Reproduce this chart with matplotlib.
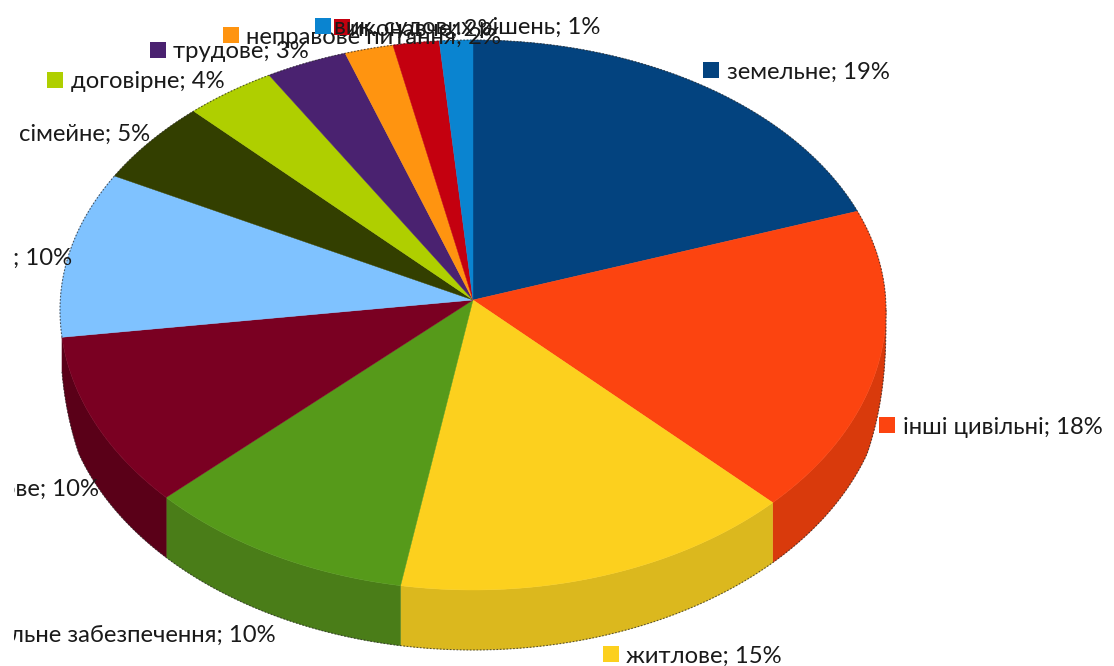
import numpy as np
import matplotlib.pyplot as plt
from matplotlib.patches import Polygon, Rectangle

# підписи як на картинці (значення зчитані по кутах секторів)
labels = ["земельне; 19%", "інші цивільні; 18%", "житлове; 15%", "льне забезпечення; 10%",
          "ове; 10%", "; 10%", "сімейне; 5%", "договірне; 4%", "трудове; 3%",
          "неправове питання; 2%", "виконавче; 2%", "вик. судових рішень; 1%"]
values = [19.0, 18.0, 15.7, 10.5, 10.1, 9.8, 4.9, 3.6, 3.2, 1.9, 1.8, 1.3]
colors = ["#03437f", "#fc4410", "#fcd01e", "#569a1a", "#7a0022", "#7fc2ff",
          "#333f00", "#afcf00", "#4a2270", "#ff9410", "#c4000f", "#0a84d0"]
side_colors = ["#03437f", "#d93a0c", "#dbb81e", "#4a7d18", "#5a0018", "#7fc2ff",
               "#333f00", "#afcf00", "#4a2270", "#ff9410", "#c4000f", "#0a84d0"]

# позиції підписів: x, y центру, вирівнювання, x маркера (None - маркера не видно)
label_pos = [(727, 70, "left", 703), (903, 425, "left", 879), (626, 654, "left", 603),
             (276, 633, "right", None), (99, 487, "right", None), (72, 256, "right", None),
             (150, 132, "right", None), (71, 80, "left", 47), (173, 50, "left", 150),
             (246, 35, "left", 223), (497, 27, "right", 334), (600, 26, "right", 315)]

cx, cy_apex, cy, rx, ry_top, ry_bot, depth = 473, 300, 310, 413, 270, 280, 60


def rim(t):
    c = np.cos(t)
    return cx + rx * np.sin(t), cy - np.where(c > 0, ry_top, ry_bot) * c


def side_depth(t):
    # стінка звужується до країв пирога
    return depth * np.minimum(1, np.sqrt(np.abs(np.cos(t)) / 0.3))


plt.rcParams['font.family'] = ['Lato', 'Open Sans', 'DejaVu Sans']
fig = plt.figure(figsize=(11.14, 6.66), dpi=100)
ax = fig.add_axes([0, 0, 1, 1])
ax.set_xlim(0, 1114)
ax.set_ylim(666, 0)
ax.axis("off")

edges = np.concatenate([[0], np.cumsum(values)]) / sum(values) * 2 * np.pi
side_end = edges[5]  # блакитний сектор стінки вже не має

# бокова стінка
for i, col in enumerate(side_colors):
    a, b = max(edges[i], np.pi / 2), min(edges[i + 1], side_end)
    if a >= b:
        continue
    ts = np.linspace(a, b, 80)
    xs, ys = rim(ts)
    pts = list(zip(xs, ys)) + list(zip(xs[::-1], (ys + side_depth(ts))[::-1]))
    ax.add_patch(Polygon(pts, facecolor=col, edgecolor=col, lw=0.3))

# верхня поверхня
for i, col in enumerate(colors):
    ts = np.linspace(edges[i], edges[i + 1], 80)
    xs, ys = rim(ts)
    pts = [(cx, cy_apex)] + list(zip(xs, ys))
    ax.add_patch(Polygon(pts, facecolor=col, edgecolor=col, lw=0.3))

# пунктирний контур
ts = np.linspace(side_end, 2 * np.pi + np.pi / 2, 300)
ax.plot(*rim(ts), color="#222222", lw=0.8, ls=(0, (1.5, 1.5)), alpha=0.7)
ts = np.linspace(np.pi / 2, side_end, 300)
xs, ys = rim(ts)
ax.plot(xs, ys + side_depth(ts), color="#222222", lw=0.8, ls=(0, (1.5, 1.5)), alpha=0.7)

# підписи
for i, (lab, (x, y, ha, key_x)) in enumerate(zip(labels, label_pos)):
    clip = Rectangle((14, 0), 1100, 666, transform=ax.transData)
    txt = ax.text(x, y, lab, ha=ha, va="center_baseline", fontsize=17.2, color="#1a1a1a")
    txt.set_clip_path(clip)
    txt.set_clip_on(True)
    if key_x is not None:
        ax.add_patch(Rectangle((key_x, y - 8), 16, 16, facecolor=colors[i], zorder=3))

fig.savefig("out.png", dpi=100)
